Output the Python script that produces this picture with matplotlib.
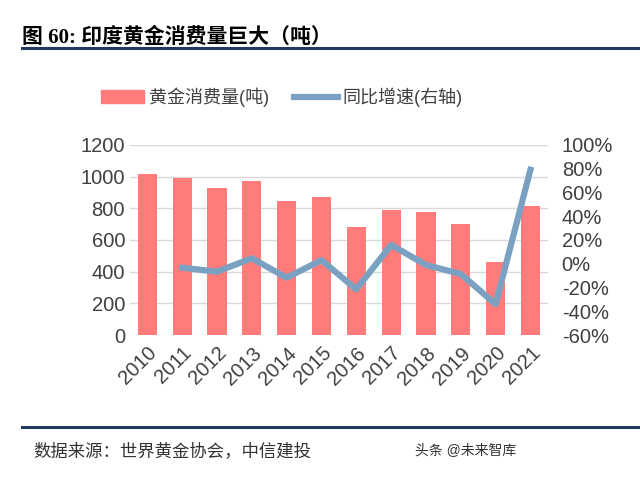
import numpy as np
import matplotlib.pyplot as plt
from matplotlib.lines import Line2D
from matplotlib.patches import Patch

plt.rcParams['font.family'] = ['Liberation Sans', 'Noto Sans CJK SC', 'DejaVu Sans']

years = ['2010', '2011', '2012', '2013', '2014', '2015',
         '2016', '2017', '2018', '2019', '2020', '2021']
consumption = [1015, 988, 928, 973, 848, 874, 680, 787, 775, 703, 463, 813]
growth_years = years[1:]
growth = [-3.3, -6.7, 4.6, -11.7, 3.0, -21.5, 15.8, -1.0, -8.6, -34.0, 79.0]

bar_color = '#FF7C7A'
line_color = '#7BA1C2'
text_color = '#404040'

fig = plt.figure(figsize=(6.4, 4.78), dpi=100)
ax = fig.add_axes([0.203, 0.299, 0.653, 0.398])

x = np.arange(len(years))
ax.bar(x, consumption, width=0.55, color=bar_color, zorder=2)
ax.set_ylim(0, 1200)
ax.set_yticks(range(0, 1201, 200))
ax.set_xlim(-0.5, len(years) - 0.5)
ax.set_xticks(x)
ax.set_xticklabels(years, rotation=45, ha='right', rotation_mode='anchor')
ax.grid(axis='y', color='#D9D9D9', linewidth=1, zorder=0)
for s in ax.spines.values():
    s.set_visible(False)
ax.tick_params(length=0, labelsize=14.5, labelcolor=text_color)
ax.tick_params(axis='x', pad=6)

ax2 = ax.twinx()
gx = np.arange(1, len(years))
ax2.plot(gx, growth, color=line_color, linewidth=4.5, zorder=3)
ax2.set_ylim(-60, 100)
ax2.set_yticks(range(-60, 101, 20))
ax2.set_yticklabels([f'{v}%' for v in range(-60, 101, 20)])
for s in ax2.spines.values():
    s.set_visible(False)
ax2.tick_params(length=0, labelsize=14.5, labelcolor=text_color, pad=10)

# legend
handles = [Patch(color=bar_color), Line2D([0], [0], color=line_color, linewidth=4.5)]
fig.legend(handles, ['黄金消费量(吨)', '同比增速(右轴)'], loc='center',
           bbox_to_anchor=(0.44, 0.797), ncol=2, frameon=False, fontsize=13,
           labelcolor=text_color, handlelength=2.4, handletextpad=0.25,
           columnspacing=1.4)

# title and rules
fig.text(0.034, 0.922, '图 60: 印度黄金消费量巨大（吨）', fontsize=15,
         fontweight='bold', color='black', va='center',
         family=['Liberation Serif', 'Noto Sans CJK SC'])
fig.add_artist(Line2D([0.034, 1.0], [0.899, 0.899], color='#1F3A60', linewidth=2.2))
fig.add_artist(Line2D([0.034, 1.0], [0.107, 0.107], color='#1F3A60', linewidth=2.2))

fig.text(0.052, 0.058, '数据来源：世界黄金协会，中信建投', fontsize=12.5,
         style='italic', color='#333333', va='center')
fig.text(0.648, 0.056, '头条 @未来智库', fontsize=10, color='#333333', va='center')

fig.savefig('out.png', dpi=100, facecolor='white')
